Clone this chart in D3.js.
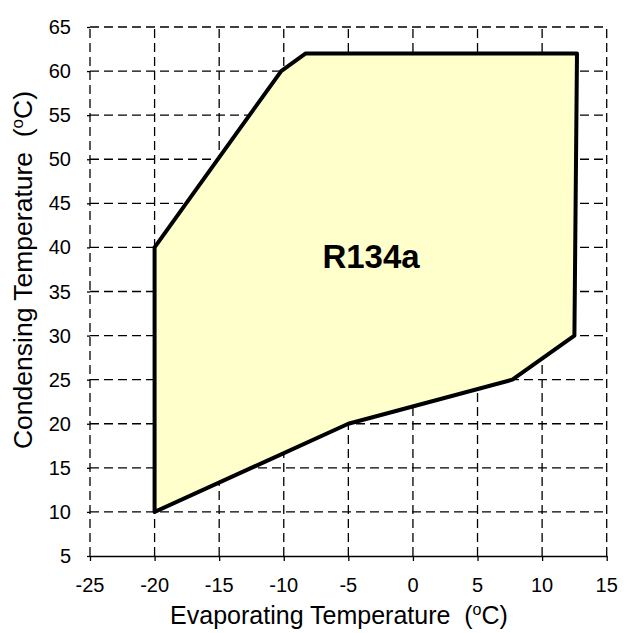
<!DOCTYPE html>
<html><head><meta charset="utf-8">
<script src="https://cdn.jsdelivr.net/npm/d3@7"></script>
<style>body{margin:0;background:#fff}svg{display:block}text{font-family:"Liberation Sans",Arial,sans-serif;fill:#000}</style>
</head><body>
<script>
const xTicks = [-25,-20,-15,-10,-5,0,5,10,15];
const yTicks = [5,10,15,20,25,30,35,40,45,50,55,60,65];
const envelopeEvap = [-20,-5,7.7,12.5,12.7,-8.3,-10.2,-20];
const envelopeCond = [10,20,25,30,62,62,60,40];
const label = "R134a";

const W=627,H=633;
const x=d3.scaleLinear().domain([-25,15]).range([90,606.7]);
const y=d3.scaleLinear().domain([5,65]).range([556,27]);
const svg=d3.select("body").append("svg").attr("width",W).attr("height",H);

// gridlines
const g=svg.append("g").attr("stroke","#000").attr("stroke-width",1.3).attr("stroke-dasharray","9,5");
g.selectAll(".vx").data(xTicks).enter().append("line")
 .attr("x1",d=>x(d)).attr("x2",d=>x(d)).attr("y1",y(5)).attr("y2",y(65));
g.selectAll(".hy").data(yTicks.filter(d=>d>5)).enter().append("line")
 .attr("x1",x(-25)).attr("x2",x(15)).attr("y1",d=>y(d)).attr("y2",d=>y(d));

// polygon
const pts=envelopeEvap.map((e,i)=>[x(e),y(envelopeCond[i])]);
svg.append("path").attr("d",d3.line()(pts)+"Z")
 .attr("fill","#FFFFCC").attr("stroke","#000").attr("stroke-width",4).attr("stroke-linejoin","round");

// axes (lines from d3 axis, labels drawn explicitly)
const xa=svg.append("g").attr("transform",`translate(0,${y(5)})`)
 .call(d3.axisBottom(x).tickValues(xTicks).tickFormat("").tickSize(5).tickSizeOuter(0));
xa.select(".domain").attr("stroke-width",1.5);
xa.selectAll("line").attr("stroke-width",1.3);
const ya=svg.append("g").attr("transform",`translate(${x(-25)},0)`)
 .call(d3.axisLeft(y).tickValues(yTicks).tickFormat("").tickSize(3).tickSizeOuter(0));
ya.select(".domain").remove();
ya.selectAll("line").attr("stroke-width",1.3);

svg.append("g").selectAll("text").data(xTicks).enter().append("text")
 .attr("x",d=>x(d)).attr("y",592).attr("text-anchor","middle")
 .style("font-size","20px").text(d=>String(d));
svg.append("g").selectAll("text").data(yTicks).enter().append("text")
 .attr("x",71).attr("y",d=>y(d)+7).attr("text-anchor","end")
 .style("font-size","20px").text(d=>String(d));

// label
svg.append("text").attr("x",371).attr("y",268)
 .attr("text-anchor","middle").style("font-size","33px").attr("font-weight","bold").text(label);

// titles
const xt=svg.append("text").attr("x",339).attr("y",624).attr("text-anchor","middle").style("font-size","25px");
xt.append("tspan").text("Evaporating Temperature\u00a0\u00a0(");
xt.append("tspan").style("font-size","16px").attr("dy",-9).text("o");
xt.append("tspan").attr("dy",9).text("C)");
const yt=svg.append("text").attr("transform","translate(32,270) rotate(-90)").attr("text-anchor","middle").style("font-size","26.5px");
yt.append("tspan").text("Condensing Temperature\u00a0\u00a0(");
yt.append("tspan").style("font-size","17px").attr("dy",-9).text("o");
yt.append("tspan").attr("dy",9).text("C)");
</script>
</body></html>
